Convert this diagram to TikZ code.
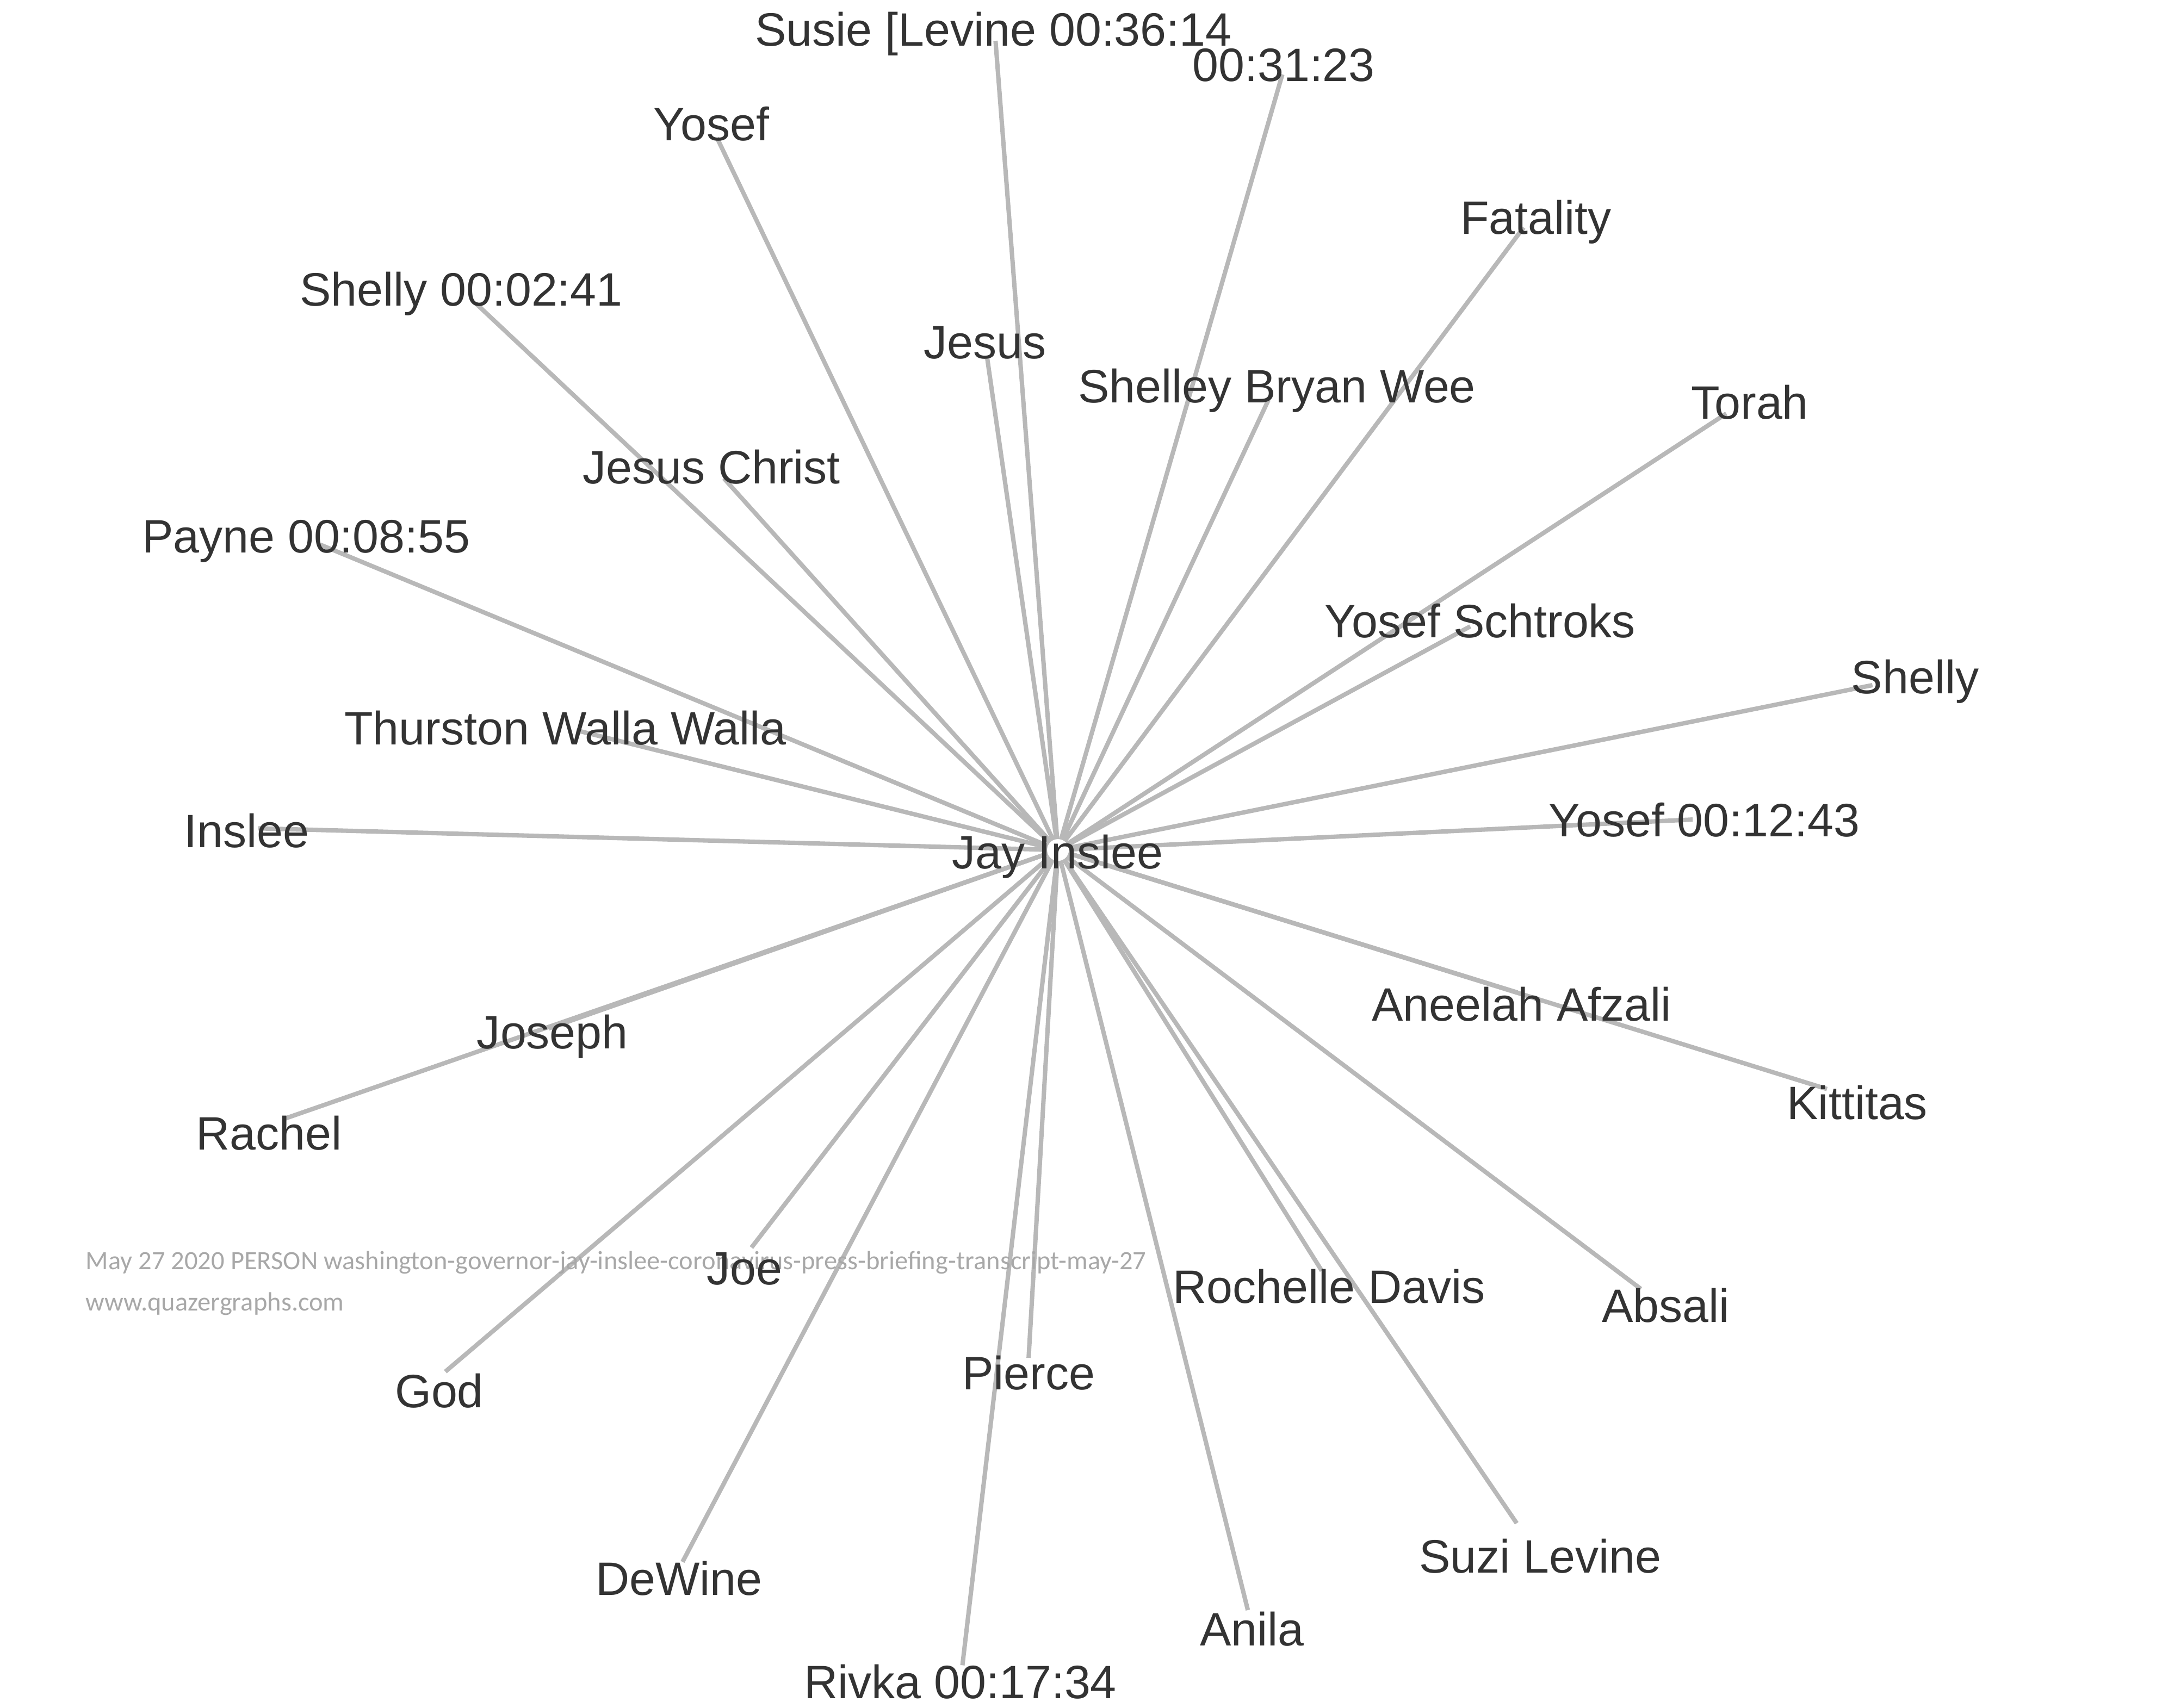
\documentclass[tikz,border=0pt]{standalone}
\usepackage{fontspec}
\setmainfont{Liberation Sans}
\newfontfamily\stampfont{Carlito}
\definecolor{edgegray}{HTML}{B8B8B8}
\definecolor{namegray}{HTML}{333333}
\definecolor{stampgray}{HTML}{A8A8A8}
\tikzset{person/.style={inner sep=0pt, anchor=base, text=namegray, font=\fontsize{24.5}{29}\selectfont},
         link/.style={draw=edgegray, line width=2.3pt},
         hubdot/.style={circle, fill=white, inner sep=0pt, minimum size=0.4cm},
         stamp/.style={inner sep=0pt, anchor=base west, text=stampgray, font=\stampfont\fontsize{13.8}{16}\selectfont}}

\begin{document}
\begin{tikzpicture}[x=0.02535cm, y=-0.02535cm]
        \useasboundingbox (0,0) rectangle (1568,1239);
        % node points
        \coordinate (jay) at (767.3,616.6);
        \coordinate (susie) at (722,29.6);
        \coordinate (tsa) at (930,54);
        \coordinate (yosefa) at (520,100);
        \coordinate (fatality) at (1105,165);
        \coordinate (shellyb) at (345,220);
        \coordinate (jesus) at (716,260);
        \coordinate (shelley) at (920,290);
        \coordinate (torah) at (1252,300);
        \coordinate (christ) at (525,347);
        \coordinate (payne) at (232,395);
        \coordinate (schtroks) at (1066.3,454.4);
        \coordinate (shelly) at (1358,497);
        \coordinate (thurston) at (418.1,529.8);
        \coordinate (inslee) at (187.4,600.9);
        \coordinate (yosefc) at (1227.6,594.5);
        \coordinate (aneelah) at (1100.6,720);
        \coordinate (kittitas) at (1325,790);
        \coordinate (joseph) at (398,746);
        \coordinate (rachel) at (205,812);
        \coordinate (joe) at (545,905);
        \coordinate (rochelle) at (958.6,921.8);
        \coordinate (absali) at (1190,935);
        \coordinate (god) at (323,995);
        \coordinate (pierce) at (746,985);
        \coordinate (suzi) at (1100,1105);
        \coordinate (dewine) at (495,1133);
        \coordinate (anila) at (905,1168);
        \coordinate (rivka) at (698,1208);

        % edges
        \draw[link](jay)--(susie);
        \draw[link](jay)--(tsa);
        \draw[link](jay)--(yosefa);
        \draw[link](jay)--(fatality);
        \draw[link](jay)--(shellyb);
        \draw[link](jay)--(jesus);
        \draw[link](jay)--(shelley);
        \draw[link](jay)--(torah);
        \draw[link](jay)--(christ);
        \draw[link](jay)--(payne);
        \draw[link](jay)--(schtroks);
        \draw[link](jay)--(shelly);
        \draw[link](jay)--(thurston);
        \draw[link](jay)--(inslee);
        \draw[link](jay)--(yosefc);
        \draw[link](jay)--(aneelah);
        \draw[link](jay)--(kittitas);
        \draw[link](jay)--(joseph);
        \draw[link](jay)--(rachel);
        \draw[link](jay)--(joe);
        \draw[link](jay)--(rochelle);
        \draw[link](jay)--(absali);
        \draw[link](jay)--(god);
        \draw[link](jay)--(pierce);
        \draw[link](jay)--(suzi);
        \draw[link](jay)--(dewine);
        \draw[link](jay)--(anila);
        \draw[link](jay)--(rivka);
        \node[hubdot](jaydot)at(jay){};

        % watermark
        \node[stamp](stampa)at(62,921){May 27 2020 PERSON washington-governor-jay-inslee-coronavirus-press-briefing-transcript-may-27};
        \node[stamp](stampb)at(62,951){www.quazergraphs.com};

        % labels
        \node[person](jay-l)at(767.1,630){Jay Inslee};
        \node[person](susie-l)at(720.5,33.5){Susie [Levine 00:36:14};
        \node[person](tsa-l)at(931,59){00:31:23};
        \node[person](yosefa-l)at(516,102){Yosef};
        \node[person](fatality-l)at(1114,170){Fatality};
        \node[person](shellyb-l)at(334.5,222){Shelly 00:02:41};
        \node[person](jesus-l)at(714.5,260){Jesus};
        \node[person](shelley-l)at(926,292){Shelley Bryan Wee};
        \node[person](torah-l)at(1269,304){Torah};
        \node[person](christ-l)at(516,351){Jesus Christ};
        \node[person](payne-l)at(222,401){Payne 00:08:55};
        \node[person](schtroks-l)at(1073.5,462.7){Yosef Schtroks};
        \node[person](shelly-l)at(1389,503){Shelly};
        \node[person](thurston-l)at(410,540.4){Thurston Walla Walla};
        \node[person](inslee-l)at(178.9,614.6){Inslee};
        \node[person](yosefc-l)at(1236,606.7){Yosef 00:12:43};
        \node[person](aneelah-l)at(1103.5,740.8){Aneelah Afzali};
        \node[person](kittitas-l)at(1347,812){Kittitas};
        \node[person](joseph-l)at(400.7,760.6){Joseph};
        \node[person](rachel-l)at(195,834){Rachel};
        \node[person](joe-l)at(540,932){Joe};
        \node[person](rochelle-l)at(964,945.5){Rochelle Davis};
        \node[person](absali-l)at(1208,959){Absali};
        \node[person](god-l)at(318.5,1021){God};
        \node[person](pierce-l)at(746,1008){Pierce};
        \node[person](suzi-l)at(1117,1141){Suzi Levine};
        \node[person](dewine-l)at(492.5,1157){DeWine};
        \node[person](anila-l)at(908,1194){Anila};
        \node[person](rivka-l)at(696.5,1232){Rivka 00:17:34};
\end{tikzpicture}
\end{document}
